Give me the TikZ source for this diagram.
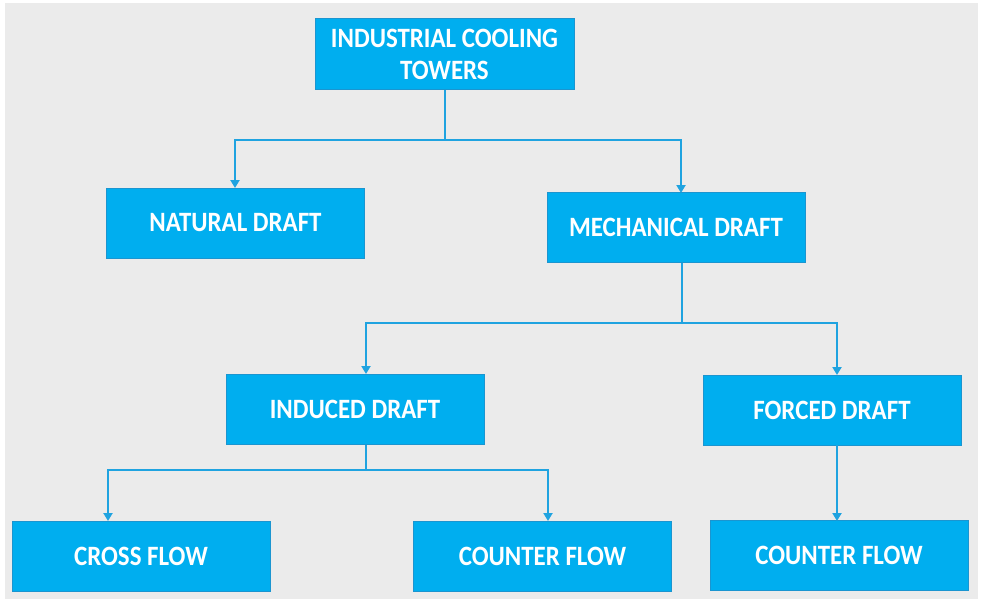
\documentclass[tikz,border=0pt]{standalone}
\usepackage{fontspec}
\setmainfont{Carlito}[FakeStretch=0.89]
\usetikzlibrary{arrows.meta}
\definecolor{bg}{HTML}{EBEBEB}
\definecolor{boxfill}{HTML}{00AEEF}
\definecolor{boxline}{HTML}{1B95D0}
\definecolor{linkc}{HTML}{1FA3E0}
\tikzset{
  box/.style={draw=boxline, line width=1pt, fill=boxfill, text=white,
    font=\bfseries\fontsize{28}{33}\selectfont, align=center,
    minimum width=258pt, minimum height=70pt, inner sep=0pt},
  link/.style={draw=linkc, line width=2.8pt},
  arr/.style={link, -{Triangle[width=9pt,length=8pt]}}
}
\begin{document}
\begin{tikzpicture}[x=1pt,y=-1pt]
\useasboundingbox (0,0) rectangle (983,600);
\fill[white] (0,0) rectangle (983,600);
\fill[bg] (5,3) rectangle (978,599);
\node[box, minimum width=259pt, minimum height=71pt] (top) at (444.5,54) {INDUSTRIAL COOLING\\[-1pt]TOWERS};
\node[box] (nat) at (235.5,223) {NATURAL DRAFT};
\node[box] (mech) at (676,227.5) {MECHANICAL DRAFT};
\node[box] (ind) at (355,409.5) {INDUCED DRAFT};
\node[box] (forc) at (832,410) {FORCED DRAFT};
\node[box] (cross) at (141,556.5) {CROSS FLOW};
\node[box] (cnt1) at (542.5,556) {COUNTER FLOW};
\node[box] (cnt2) at (839,555.5) {COUNTER FLOW};
\coordinate (j1) at (445,140);
\coordinate (j2) at (682,323);
\coordinate (j3) at (366,470);
\draw[link] (j1 |- top.south) -- (j1);
\draw[arr] (j1) -| (235,188);
\draw[arr] (j1) -| (681,193);
\draw[link] (j2 |- mech.south) -- (j2);
\draw[arr] (j2) -| (366,374);
\draw[arr] (j2) -| (837,375);
\draw[link] (j3 |- ind.south) -- (j3);
\draw[arr] (j3) -| (108,521);
\draw[arr] (j3) -| (548,521);
\draw[arr] (837,445) -- (837,521);
\end{tikzpicture}
\end{document}
